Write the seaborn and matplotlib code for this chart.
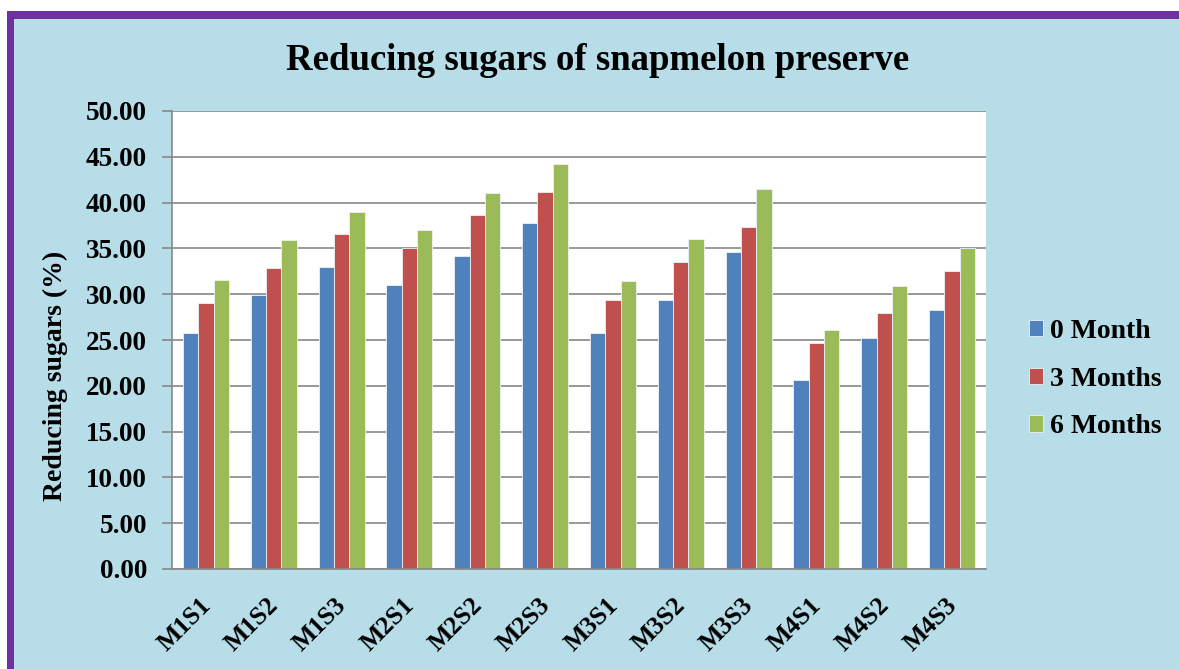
import matplotlib
matplotlib.use("Agg")
import matplotlib.pyplot as plt
import matplotlib.transforms as mtransforms
import seaborn as sns
import pandas as pd
from matplotlib.patches import Rectangle

treatments = ["M1S1", "M1S2", "M1S3", "M2S1", "M2S2", "M2S3",
              "M3S1", "M3S2", "M3S3", "M4S1", "M4S2", "M4S3"]
month0 = [25.8, 29.9, 33.0, 31.0, 34.2, 37.8, 25.8, 29.4, 34.6, 20.6, 25.2, 28.3]
month3 = [29.0, 32.9, 36.6, 35.0, 38.6, 41.2, 29.4, 33.5, 37.3, 24.7, 28.0, 32.5]
month6 = [31.6, 35.9, 39.0, 37.0, 41.1, 44.2, 31.4, 36.0, 41.5, 26.1, 30.9, 35.0]
periods = ["0 Month", "3 Months", "6 Months"]
colors = ["#4F81BD", "#C0504D", "#9BBB59"]

rows = []
for p, vals in zip(periods, [month0, month3, month6]):
    for t, v in zip(treatments, vals):
        rows.append({"Treatment": t, "Period": p, "Value": v})
df = pd.DataFrame(rows)

sns.set_theme(style="white")
plt.rcParams["font.family"] = ["Liberation Serif", "DejaVu Serif"]
plt.rcParams["font.weight"] = "bold"
plt.rcParams["text.color"] = "black"
plt.rcParams["xtick.color"] = "black"
plt.rcParams["ytick.color"] = "black"
plt.rcParams["axes.labelcolor"] = "black"

W, H = 1179, 669
fig = plt.figure(figsize=(W / 100, H / 100), dpi=100, facecolor="white")

# background frame
fig.patches.append(Rectangle((7 / W, -0.1), 1.2, 1 - 11 / H + 0.1, transform=fig.transFigure,
                             facecolor="#7030A0", edgecolor="none", zorder=-10))
fig.patches.append(Rectangle((14 / W, -0.1), 1.2, 1 - 19 / H + 0.1, transform=fig.transFigure,
                             facecolor="#B7DDE8", edgecolor="none", zorder=-9))

ax = fig.add_axes([172 / W, (H - 569) / H, (986 - 172) / W, (569 - 111) / H])
ax.set_facecolor("white")

sns.barplot(data=df, x="Treatment", y="Value", hue="Period", palette=colors,
            saturation=1, width=0.68, errorbar=None, ax=ax, linewidth=0.6,
            edgecolor="#eef2f6")

ax.set_ylim(0, 50)
ax.set_xlim(-0.5, 11.5)
ax.set_yticks(range(0, 51, 5))
ax.set_yticklabels([f"{v:.2f}" for v in range(0, 51, 5)], fontsize=19.5, fontweight="bold")
ax.yaxis.grid(True, color="#878787", linewidth=1.2)
ax.set_axisbelow(True)

ax.set_xticks(range(12))
ax.set_xticklabels(treatments, rotation=45, ha="right", rotation_mode="anchor",
                   fontsize=18.5, fontweight="bold")
ax.set_xticks([i - 0.5 for i in range(13)], minor=True)
ax.tick_params(axis="x", which="major", length=0, pad=16)
ax.tick_params(axis="x", which="minor", length=6, width=1.2, color="#878787")
ax.tick_params(axis="y", which="major", length=7, width=1.2, color="#878787", pad=11, left=True)

offset = mtransforms.ScaledTranslation(-7 / 100, -2 / 100, fig.dpi_scale_trans)
for lbl in ax.get_xticklabels():
    lbl.set_transform(lbl.get_transform() + offset)

for s in ["top", "right"]:
    ax.spines[s].set_visible(False)
for s in ["left", "bottom"]:
    ax.spines[s].set_color("#878787")
    ax.spines[s].set_linewidth(1.2)

ax.set_xlabel("")
ax.set_ylabel("Reducing sugars (%)", fontsize=20, fontweight="bold")
ax.yaxis.set_label_coords((68 - 172) / 814, (569 - 376) / 458)

fig.text(598 / W, 1 - 70 / H, "Reducing sugars of snapmelon preserve",
         ha="center", va="baseline", fontsize=26.5, fontweight="bold")

handles, labels = ax.get_legend_handles_labels()
if ax.legend_:
    ax.legend_.remove()
fig.legend(handles, labels, loc="center left", bbox_to_anchor=(1015 / W, 1 - 379 / H),
           frameon=False, handlelength=0.52, handleheight=0.52,
           handletextpad=0.25, labelspacing=0.82, borderpad=0,
           prop={"weight": "bold", "size": 20})

fig.savefig("out.png", dpi=100, facecolor=fig.get_facecolor())
